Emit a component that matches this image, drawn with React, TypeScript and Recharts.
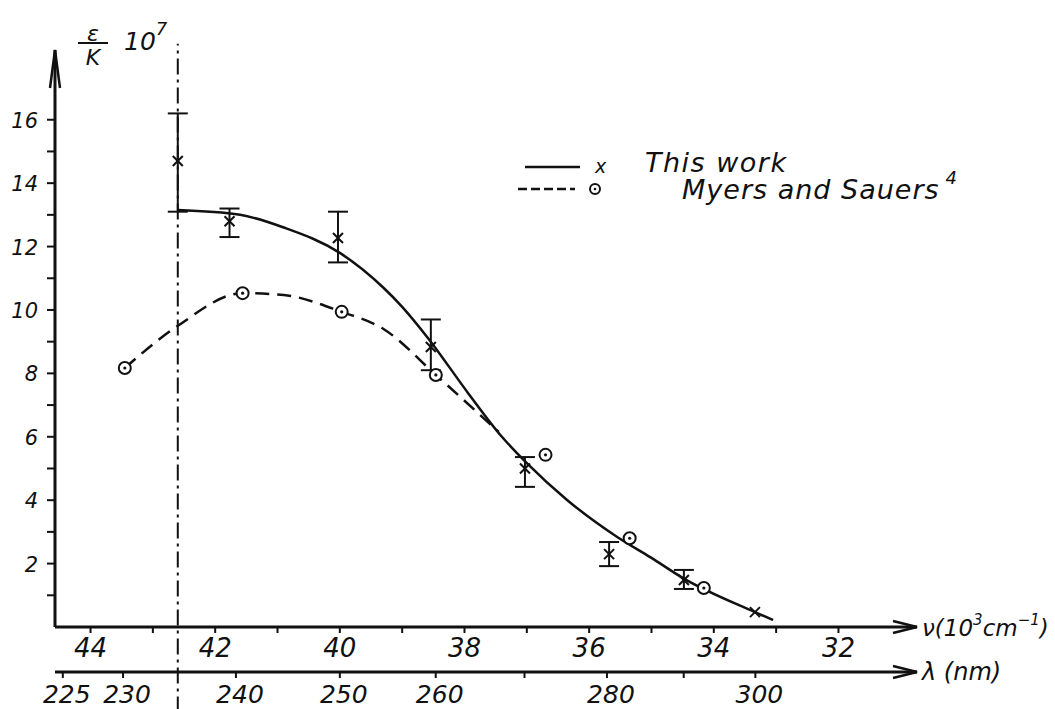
import {
  ComposedChart,
  Line,
  Scatter,
  XAxis,
  YAxis,
  ErrorBar,
  ReferenceLine,
  ReferenceDot,
  Legend,
} from "recharts";

const INK = "#111";
const FONT = "'DejaVu Sans', sans-serif";
const NU = "a_nu";
const LAM = "b_lam";

// wavenumber axis (10^3 cm^-1), drawn decreasing left to right
const nuDomain = [30.74, 44.57];
const nuTicks = [44, 43, 42, 41, 40, 39, 38, 37, 36, 35, 34, 33, 32];
const lambdaTicks = [225, 230, 240, 250, 260, 270, 280, 290, 300];
const lambdaLabelled = [225, 230, 240, 250, 260, 280, 300];
const epsTicks = [1, 2, 3, 4, 5, 6, 7, 8, 9, 10, 11, 12, 13, 14, 15, 16];
const cutoffNu = 42.6;

// This work: measured points with error bars
const workNu = [42.6, 41.77, 40.03, 38.54, 37.03, 35.68, 34.48];
const workEps = [14.7, 12.8, 12.27, 8.83, 5.0, 2.3, 1.48];
const workLow = [13.1, 12.3, 11.5, 8.1, 4.42, 1.92, 1.2];
const workHigh = [16.2, 13.2, 13.1, 9.7, 5.36, 2.68, 1.8];
// last point, no error bar
const workTailNu = [33.34];
const workTailEps = [0.47];

// This work: drawn curve
const curveNu = [42.6, 41.6, 40.9, 40.0, 39.3, 39.0, 38.6, 37.95, 37.4, 37.0, 36.35, 35.55, 35.0, 34.5, 33.34, 33.05];
const curveEps = [13.15, 13.0, 12.6, 11.8, 10.7, 10.1, 9.15, 7.4, 6.0, 5.17, 4.0, 2.84, 2.18, 1.55, 0.47, 0.22];

// Myers and Sauers
const msNu = [43.45, 41.56, 39.97, 38.46, 36.7, 35.35, 34.16];
const msEps = [8.17, 10.53, 9.94, 7.95, 5.43, 2.8, 1.23];
const msCurveNu = [43.45, 42.6, 41.56, 40.9, 39.97, 39.3, 38.46, 37.45];
const msCurveEps = [8.17, 9.5, 10.53, 10.47, 9.94, 9.4, 7.95, 6.15];

const workData = workNu.map((nu, i) => ({
  nu,
  eps: workEps[i],
  err: [workEps[i] - workLow[i], workHigh[i] - workEps[i]],
}));
const workTail = workTailNu.map((nu, i) => ({ nu, eps: workTailEps[i] }));
const curveData = curveNu.map((nu, i) => ({ nu, eps: curveEps[i] }));
const msData = msNu.map((nu, i) => ({ nu, eps: msEps[i] }));
const msCurveData = msCurveNu.map((nu, i) => ({ nu, eps: msCurveEps[i] }));

const CrossMark = (props: any) => {
  const { cx, cy } = props;
  return (
    <g stroke={INK} strokeWidth={2}>
      <line x1={cx - 5} y1={cy - 5} x2={cx + 5} y2={cy + 5} />
      <line x1={cx - 5} y1={cy + 5} x2={cx + 5} y2={cy - 5} />
    </g>
  );
};

const RingMark = (props: any) => {
  const { cx, cy } = props;
  return (
    <g>
      <circle cx={cx} cy={cy} r={6} fill="#fff" stroke={INK} strokeWidth={2} />
      <circle cx={cx} cy={cy} r={1.6} fill={INK} />
    </g>
  );
};

const YTick = (props: any) => {
  const { x, y, payload } = props;
  const v = payload.value;
  return (
    <g>
      <line x1={x - 8} y1={y} x2={x} y2={y} stroke={INK} strokeWidth={2} />
      {v % 2 === 0 && (
        <text x={x - 17} y={y + 8} textAnchor="end" fontSize={21} fontStyle="italic" fontFamily={FONT} fill={INK}>
          {v}
        </text>
      )}
    </g>
  );
};

const NuTick = (props: any) => {
  const { x, y, payload } = props;
  const v = payload.value;
  return (
    <g>
      <line x1={x} y1={y} x2={x} y2={y + 6} stroke={INK} strokeWidth={2} />
      {v % 2 === 0 && (
        <text x={x} y={y + 30} textAnchor="middle" fontSize={26} fontStyle="italic" fontFamily={FONT} fill={INK}>
          {v}
        </text>
      )}
    </g>
  );
};

const LambdaTick = (props: any) => {
  const { x, y, payload } = props;
  const lam = Math.round(10000 / payload.value);
  return (
    <g>
      <line x1={x} y1={y} x2={x} y2={y + 6} stroke={INK} strokeWidth={2} />
      {lambdaLabelled.includes(lam) && (
        <text x={x + 4} y={y + 31} textAnchor="middle" fontSize={25} fontStyle="italic" fontFamily={FONT} fill={INK}>
          {lam}
        </text>
      )}
    </g>
  );
};

const AxisArrows = (props: any) => {
  const { cx, cy } = props;
  return (
    <g stroke={INK} strokeWidth={2.5} fill="none">
      <polyline points={`${cx - 24},${cy - 6} ${cx},${cy} ${cx - 24},${cy + 6}`} />
      <polyline points={`${cx - 24},${cy + 39} ${cx},${cy + 45} ${cx - 24},${cy + 51}`} />
    </g>
  );
};

const UpArrow = (props: any) => {
  const { cx, cy } = props;
  return (
    <polyline
      points={`${cx - 5},${cy + 38} ${cx},${cy} ${cx + 5},${cy + 38}`}
      stroke={INK}
      strokeWidth={2.5}
      fill="none"
    />
  );
};

const LegendBox = () => (
  <svg width={520} height={80} style={{ overflow: "visible" }}>
    <line x1={15} y1={27} x2={70} y2={27} stroke={INK} strokeWidth={2.5} />
    <text x={85} y={33} fontSize={19} fontStyle="italic" fontFamily={FONT} fill={INK}>
      x
    </text>
    <text x={135} y={32} fontSize={27} letterSpacing={1.5} fontStyle="italic" fontFamily={FONT} fill={INK}>
      This work
    </text>
    <line x1={8} y1={49} x2={65} y2={49} stroke={INK} strokeWidth={2.5} strokeDasharray="9 4" />
    <circle cx={85} cy={49} r={5} fill="#fff" stroke={INK} strokeWidth={2} />
    <circle cx={85} cy={49} r={1.3} fill={INK} />
    <text x={172} y={59} fontSize={27} letterSpacing={1} fontStyle="italic" fontFamily={FONT} fill={INK}>
      Myers and Sauers
      <tspan dy={-15} dx={6} fontSize={18}>
        4
      </tspan>
    </text>
  </svg>
);

const YLabel = (props: any) => {
  const { viewBox } = props;
  const top = viewBox.y;
  return (
    <g fontFamily={FONT} fontStyle="italic" fill={INK}>
      <text x={93} y={top - 9} textAnchor="middle" fontSize={22}>
        ε
      </text>
      <line x1={78} y1={top - 7} x2={108} y2={top - 7} stroke={INK} strokeWidth={2} />
      <text x={93} y={top + 15} textAnchor="middle" fontSize={22}>
        K
      </text>
      <text x={124} y={top} fontSize={25}>
        10
        <tspan dy={-15} fontSize={18}>
          7
        </tspan>
      </text>
    </g>
  );
};

const NuLabel = (props: any) => {
  const { viewBox } = props;
  const x = viewBox.x + viewBox.width + 5;
  const y = viewBox.y + 9;
  return (
    <text x={x} y={y} fontSize={23} fontStyle="italic" fontFamily={FONT} fill={INK}>
      ν(10
      <tspan dy={-11} fontSize={15}>
        3
      </tspan>
      <tspan dy={11}>cm</tspan>
      <tspan dy={-11} fontSize={15}>
        −1
      </tspan>
      <tspan dy={11}>)</tspan>
    </text>
  );
};

const LambdaLabel = (props: any) => {
  const { viewBox } = props;
  const x = viewBox.x + viewBox.width + 5;
  const y = viewBox.y + 8;
  return (
    <text x={x} y={y} fontSize={24} fontStyle="italic" fontFamily={FONT} fill={INK}>
      λ (nm)
    </text>
  );
};

export default function App() {
  return (
    <div style={{ position: "absolute", left: 0, top: 0, background: "#fff" }}>
      <ComposedChart width={1055} height={709} margin={{ top: 50, right: 138, bottom: 0, left: 0 }}>
        <XAxis
          xAxisId={NU}
          dataKey="nu"
          type="number"
          domain={nuDomain}
          reversed
          allowDataOverflow
          ticks={nuTicks}
          interval={0}
          height={45}
          tickSize={0}
          tickMargin={0}
          tickLine={false}
          tick={<NuTick />}
          axisLine={{ stroke: INK, strokeWidth: 3 }}
          label={<NuLabel />}
        />
        <XAxis
          xAxisId={LAM}
          dataKey="nu"
          type="number"
          domain={nuDomain}
          reversed
          allowDataOverflow
          ticks={lambdaTicks.map((l) => 10000 / l)}
          interval={0}
          height={37}
          tickSize={0}
          tickMargin={0}
          tickLine={false}
          tick={<LambdaTick />}
          axisLine={{ stroke: INK, strokeWidth: 3 }}
          label={<LambdaLabel />}
        />
        <YAxis
          dataKey="eps"
          type="number"
          domain={[0, 18.2]}
          allowDataOverflow
          ticks={epsTicks}
          interval={0}
          width={55}
          tickSize={0}
          tickMargin={0}
          tickLine={false}
          tick={<YTick />}
          axisLine={{ stroke: INK, strokeWidth: 3 }}
          label={<YLabel />}
        />
        <ReferenceLine
          xAxisId={NU}
          segment={[
            { x: cutoffNu, y: -2.7 },
            { x: cutoffNu, y: 18.4 },
          ]}
          ifOverflow="visible"
          stroke={INK}
          strokeWidth={2}
          strokeDasharray="16 5 3 5"
        />
        <Line
          xAxisId={NU}
          data={curveData}
          dataKey="eps"
          type="monotone"
          stroke={INK}
          strokeWidth={2.5}
          dot={false}
          isAnimationActive={false}
        />
        <Line
          xAxisId={NU}
          data={msCurveData}
          dataKey="eps"
          type="monotone"
          stroke={INK}
          strokeWidth={2.5}
          strokeDasharray="14 8"
          dot={false}
          isAnimationActive={false}
        />
        <Scatter xAxisId={NU} data={workData} dataKey="eps" shape={<CrossMark />} isAnimationActive={false}>
          <ErrorBar dataKey="err" direction="y" width={10} stroke={INK} strokeWidth={2} isAnimationActive={false} />
        </Scatter>
        <Scatter xAxisId={NU} data={workTail} dataKey="eps" shape={<CrossMark />} isAnimationActive={false} />
        <Scatter xAxisId={NU} data={msData} dataKey="eps" shape={<RingMark />} isAnimationActive={false} />
        <ReferenceDot xAxisId={NU} x={nuDomain[0]} y={0} r={0} ifOverflow="visible" shape={<AxisArrows />} />
        <ReferenceDot xAxisId={NU} x={nuDomain[1]} y={18.2} r={0} ifOverflow="visible" shape={<UpArrow />} />
        <Legend
          layout="vertical"
          align="center"
          verticalAlign="middle"
          content={<LegendBox />}
          wrapperStyle={{ left: 510, top: 140, width: 520, height: 80 }}
        />
      </ComposedChart>
    </div>
  );
}
